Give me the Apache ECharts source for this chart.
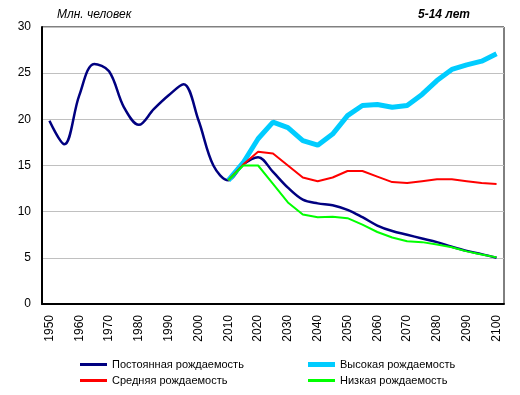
<!DOCTYPE html>
<html><head><meta charset="utf-8">
<script src="https://cdn.jsdelivr.net/npm/echarts@6/dist/echarts.min.js"></script>
<style>html,body{margin:0;padding:0;background:#fff}#c{width:520px;height:395px}</style>
</head><body><div id="c"></div>
<script>
const years = [1950,1955,1960,1965,1970,1975,1980,1985,1990,1995,2000,2005,2010,2015,2020,2025,2030,2035,2040,2045,2050,2055,2060,2065,2070,2075,2080,2085,2090,2095,2100];
const hist = [null,null,null,null,null,null,null,null,null,null,null,null];
const constantFert = [19.85,17.3,22.6,26.0,25.2,21.3,19.4,21.1,22.6,23.8,19.9,15.0,13.4,15.1,15.9,14.3,12.6,11.3,10.9,10.7,10.2,9.4,8.5,7.9,7.5,7.1,6.7,6.2,5.75,5.4,5.0];
const highFert = hist.concat([13.4,15.3,17.9,19.7,19.1,17.7,17.2,18.4,20.4,21.5,21.6,21.3,21.5,22.7,24.2,25.4,25.9,26.3,27.1]);
const midFert = hist.concat([13.4,15.1,16.5,16.3,15.0,13.7,13.3,13.7,14.4,14.4,13.8,13.2,13.1,13.3,13.5,13.5,13.3,13.1,13.0]);
const lowFert = hist.concat([13.4,15.0,15.0,13.0,11.0,9.7,9.4,9.45,9.3,8.6,7.8,7.2,6.8,6.7,6.45,6.15,5.7,5.35,5.05]);
const names = ['Постоянная рождаемость','Высокая рождаемость','Средняя рождаемость','Низкая рождаемость'];
const colors = ['#000080','#00CCFF','#FF0000','#00FF00'];
const widths = [2.5,5,2,2];
const yTicks = [0,5,10,15,20,25,30];

const font = 'Liberation Sans, Arial, sans-serif';
const chart = echarts.init(document.getElementById('c'), null, {renderer:'canvas'});
function leg(i, left, top){
  return {data:[names[i]], left:left, top:top, itemWidth:27, itemHeight: i===1?5:3, icon:'rect', itemGap:4,
    textStyle:{fontFamily:font,fontSize:11,color:'#000'}, padding:0};
}
chart.setOption({
  animation:false,
  textStyle:{fontFamily:font},
  title:[
    {text:'Млн. человек', left:57, top:9, padding:0, textStyle:{fontFamily:font,fontSize:12,fontStyle:'italic',fontWeight:'normal',color:'#000'}},
    {text:'5-14 лет', left:418, top:9, padding:0, textStyle:{fontFamily:font,fontSize:12,fontStyle:'italic',fontWeight:'bold',color:'#000'}}
  ],
  legend:[leg(0,80,359),leg(1,308,359),leg(2,80,375),leg(3,308,375)],
  grid:{left:42,right:16,top:27,bottom:91,show:true,borderColor:'#000',borderWidth:1,containLabel:false},
  xAxis:{type:'category',data:years,boundaryGap:true,
    axisLine:{lineStyle:{color:'#000',width:2}},axisTick:{show:false},
    axisLabel:{interval:1,rotate:90,fontSize:12,color:'#000',fontFamily:font,margin:11}},
  yAxis:{type:'value',min:yTicks[0],max:yTicks[yTicks.length-1],interval:5,
    axisLine:{show:true,lineStyle:{color:'#000',width:2}},axisTick:{show:false},
    splitLine:{lineStyle:{color:'#C0C0C0',width:1}},
    axisLabel:{fontSize:12,color:'#000',fontFamily:font,margin:11}},
  series:[constantFert,highFert,midFert,lowFert].map((d,i)=>({
    name:names[i],type:'line',data:d,showSymbol:false,symbol:'none',
    smooth: i===0?0.35:false,
    lineStyle:{color:colors[i],width:widths[i]},itemStyle:{color:colors[i]},
    z:2+i
  }))
});
</script></body></html>
